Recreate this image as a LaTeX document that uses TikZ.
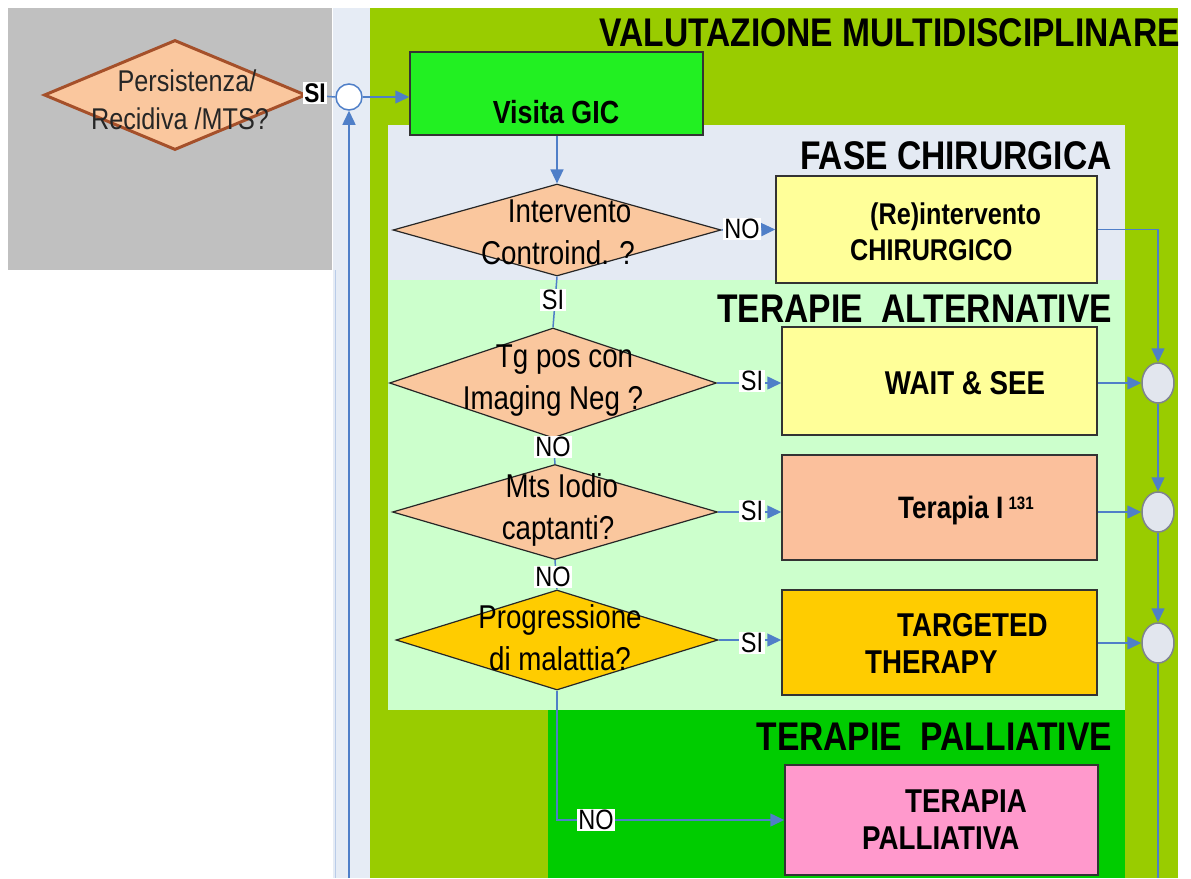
\documentclass[tikz,border=0pt]{standalone}
\usepackage{fontspec}
\setmainfont{Liberation Sans}[FakeStretch=0.84]
\usetikzlibrary{shapes.geometric,arrows.meta}
\definecolor{graybg}{HTML}{C0C0C0}
\definecolor{stripbg}{HTML}{E6ECF5}
\definecolor{lime}{HTML}{99CC00}
\definecolor{fasebg}{HTML}{E4EAF3}
\definecolor{altbg}{HTML}{CCFFCC}
\definecolor{pallbg}{HTML}{00CC00}
\definecolor{gicgreen}{HTML}{22F022}
\definecolor{peach}{HTML}{FAC79E}
\definecolor{lightyellow}{HTML}{FFFF99}
\definecolor{salmon}{HTML}{FBC09C}
\definecolor{gold}{HTML}{FFCC00}
\definecolor{pinkbox}{HTML}{FF99CC}
\definecolor{circfill}{HTML}{E2E6EE}
\definecolor{circline}{HTML}{7F8390}
\definecolor{arrowblue}{HTML}{4F7FC8}
\definecolor{brownline}{HTML}{A5502A}
\tikzset{
  titletext/.style={font=\bfseries\fontsize{40}{44}\selectfont, inner sep=0pt},
  boxtext/.style={font=\bfseries\fontsize{33}{37}\selectfont, inner sep=0pt},
  dtext/.style={font=\fontsize{33}{42}\selectfont, inner sep=0pt, align=center},
  lbl/.style={font=\fontsize{28}{30}\selectfont, fill=white, inner sep=1.5pt},
  boxnode/.style={draw=black!80, line width=1.5pt, inner sep=0pt},
  dnode/.style={diamond, draw=black!85, line width=1.2pt, inner sep=0pt, fill=peach},
  joint/.style={ellipse, draw=circline, line width=1.5pt, fill=circfill, minimum width=32pt, minimum height=40pt, inner sep=0pt},
  conn/.style={draw=arrowblue, line width=1.5pt},
  arr/.style={conn, -{Triangle[length=14pt,width=13pt]}},
}
\begin{document}
\begin{tikzpicture}[x=1pt,y=-1pt]
\useasboundingbox (0,0) rectangle (1191,878);
\fill[white] (0,0) rectangle (1191,878);
% regions
\fill[graybg] (8,8) rectangle (332,270);
\fill[stripbg] (333,8) rectangle (370,878);
\draw[arrowblue!40, line width=0.8pt] (335,270) -- (335,878);
\fill[lime] (370,8) rectangle (1178,878);
\fill[fasebg] (388,125) rectangle (1125,280);
\fill[altbg] (388,280) rectangle (1125,710);
\fill[pallbg] (548,710) rectangle (1125,878);
% titles
\node[titletext, anchor=base east] (t1) at (1180,46) {VALUTAZIONE MULTIDISCIPLINARE};
\node[titletext, anchor=base east] (t2) at (1112,169) {FASE CHIRURGICA};
\node[titletext, anchor=base east] (t3) at (1112,322) {TERAPIE\ \ ALTERNATIVE};
\node[titletext, anchor=base east] (t4) at (1112,750) {TERAPIE\ \ PALLIATIVE};
% diamonds
\node[dnode, draw=brownline, line width=3pt, fill=peach, minimum width=262pt, minimum height=110pt] (pd) at (175,95) {};
\node[dtext, text=black!85, font=\fontsize{30}{38}\selectfont] (pdt) at (180,100) {\ \ Persistenza/\\Recidiva /MTS?};
\node[dnode, minimum width=328pt, minimum height=92pt] (d1) at (557,230) {};
\node[dtext] (d1t) at (558,232) {\ \ \ Intervento\\Controind. ?};
\node[dnode, minimum width=327pt, minimum height=110pt] (d2) at (553,383) {};
\node[dtext] (d2t) at (553,381) {\ \ \ Tg pos con\\Imaging Neg ?};
\node[dnode, minimum width=325pt, minimum height=95pt] (d3) at (555,512) {};
\node[dtext] (d3t) at (558,510) {\ Mts Iodio\\captanti?};
\node[dnode, fill=gold, minimum width=322pt, minimum height=100pt] (d4) at (557,640) {};
\node[dtext] (d4t) at (560,638) {Progressione\\di malattia?};
% boxes
\node[boxnode, fill=gicgreen, minimum width=293pt, minimum height=83pt] (gic) at (556.5,93.5) {};
\node[boxtext, anchor=base, font=\bfseries\fontsize{32}{36}\selectfont] (gict) at (556,123) {Visita GIC};
\node[boxnode, fill=lightyellow, minimum width=321pt, minimum height=107pt] (reint) at (936.5,229.5) {};
\node[boxtext, anchor=west, align=left, font=\bfseries\fontsize{30}{36}\selectfont] (reintt) at (850,232) {\hspace*{20pt}(Re)intervento\\CHIRURGICO};
\node[boxnode, fill=lightyellow, minimum width=315pt, minimum height=108pt] (wait) at (939.5,381) {};
\node[boxtext] (waitt) at (965,383) {WAIT \& SEE};
\node[boxnode, fill=salmon, minimum width=315pt, minimum height=105pt] (iod) at (939.5,507.5) {};
\node[boxtext, font=\bfseries\fontsize{31}{36}\selectfont] (iodt) at (966,510) {Terapia I\,\raisebox{9pt}{\fontsize{18}{19}\selectfont 131}};
\node[boxnode, fill=gold, minimum width=315pt, minimum height=105pt] (targ) at (939.5,642.5) {};
\node[boxtext, anchor=west, align=left] (targt) at (865,643) {\hspace*{32pt}TARGETED\\THERAPY};
\node[boxnode, fill=pinkbox, minimum width=313pt, minimum height=110pt] (pall) at (941.5,820) {};
\node[boxtext, anchor=west, align=left] (pallt) at (862,820) {\hspace*{43pt}TERAPIA\\PALLIATIVA};
% joints
\node[circle, draw=arrowblue, line width=1.5pt, fill=white, minimum size=26pt, inner sep=0pt] (c0) at (349,97) {};
\node[joint] (c1) at (1158,383) {};
\node[joint] (c2) at (1158,512) {};
\node[joint] (c3) at (1158,643) {};
\coordinate (bl) at (349,878);
\coordinate (br) at (1158,878);
\coordinate (rt) at (1158,229.5);
\coordinate (pk) at (d4.south |- pall.west);
% connectors
\draw[conn] (pd.east) -- (c0.west);
\draw[arr] (c0.east) -- (gic.west |- c0.east);
\draw[arr] (bl) -- (c0.south);
\draw[arr] (gic.south -| d1.north) -- (d1.north);
\draw[arr] (d1.east) -- (reint.west);
\draw[conn] (d1.south) -- (d2.north);
\draw[arr] (reint.east) -- (rt) -- (c1.north);
\draw[arr] (d2.east) -- (wait.west |- d2.east);
\draw[arr] (wait.east |- c1.west) -- (c1.west);
\draw[conn] (d2.south) -- (d3.north);
\draw[arr] (d3.east) -- (iod.west |- d3.east);
\draw[arr] (iod.east |- c2.west) -- (c2.west);
\draw[arr] (c1.south) -- (c2.north);
\draw[conn] (d3.south) -- (d4.north);
\draw[arr] (d4.east) -- (targ.west |- d4.east);
\draw[arr] (targ.east |- c3.west) -- (c3.west);
\draw[arr] (c2.south) -- (c3.north);
\draw[conn] (c3.south) -- (br);
\draw[arr] (d4.south) -- (pk) -- (pall.west);
% labels
\node[lbl, font=\bfseries\fontsize{27}{29}\selectfont] (l0) at (315,93) {SI};
\node[lbl] (l1) at (742,229) {NO};
\node[lbl] (l2) at (553,300) {SI};
\node[lbl] (l3) at (752,381) {SI};
\node[lbl] (l4) at (553,447) {NO};
\node[lbl] (l5) at (752,511) {SI};
\node[lbl] (l6) at (553,577) {NO};
\node[lbl] (l7) at (752,643) {SI};
\node[lbl] (l8) at (596,820) {NO};
\end{tikzpicture}
\end{document}
